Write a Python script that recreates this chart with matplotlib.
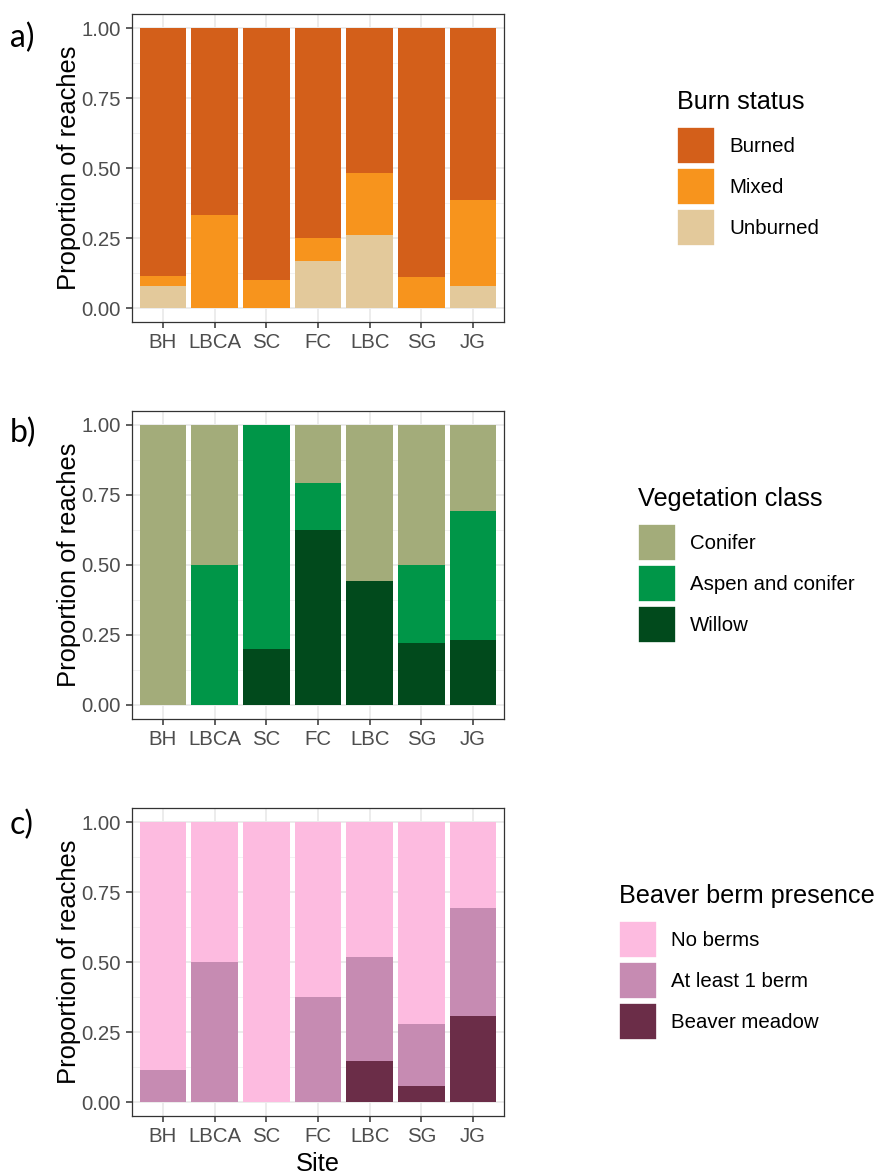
import matplotlib
matplotlib.use("Agg")
import matplotlib.pyplot as plt
from matplotlib.patches import Patch
from matplotlib.ticker import MultipleLocator

plt.rcParams['font.family'] = ['Liberation Sans', 'DejaVu Sans']

sites = ["BH", "LBCA", "SC", "FC", "LBC", "SG", "JG"]

# burn status, proportion of reaches per site
unburned = [0.077, 0.0, 0.0, 0.167, 0.259, 0.0, 0.077]
mixed = [0.038, 0.333, 0.100, 0.083, 0.222, 0.111, 0.308]
burned = [0.885, 0.667, 0.900, 0.750, 0.519, 0.889, 0.615]

# vegetation class
willow = [0.0, 0.0, 0.200, 0.625, 0.444, 0.222, 0.231]
aspen_conifer = [0.0, 0.500, 0.800, 0.167, 0.0, 0.278, 0.462]
conifer = [1.0, 0.500, 0.0, 0.208, 0.556, 0.500, 0.308]

# beaver berm presence
beaver_meadow = [0.0, 0.0, 0.0, 0.0, 0.148, 0.056, 0.308]
one_berm = [0.115, 0.500, 0.0, 0.375, 0.370, 0.222, 0.385]
no_berms = [0.885, 0.500, 1.0, 0.625, 0.481, 0.722, 0.308]

# each panel: (tag, legend title, [(label, values, colour)] from top of stack down)
panels = [
    ("a)", "Burn status", [
        ("Burned", burned, "#D35F1A"),
        ("Mixed", mixed, "#F7941D"),
        ("Unburned", unburned, "#E3C99B"),
    ]),
    ("b)", "Vegetation class", [
        ("Conifer", conifer, "#A3AC7A"),
        ("Aspen and conifer", aspen_conifer, "#009648"),
        ("Willow", willow, "#014A1C"),
    ]),
    ("c)", "Beaver berm presence", [
        ("No berms", no_berms, "#FDBBE0"),
        ("At least 1 berm", one_berm, "#C68BB2"),
        ("Beaver meadow", beaver_meadow, "#6B2D48"),
    ]),
]

W, H = 880, 1174
fig = plt.figure(figsize=(W / 100, H / 100), dpi=100)

ax_tops = [14, 411, 808]
legend_x = [677, 638, 619]
tag_y = [38, 433, 825]

for i, (tag, title, layers) in enumerate(panels):
    top = ax_tops[i]
    ax = fig.add_axes([132 / W, 1 - (top + 308) / H, 372 / W, 308 / H])

    x = range(len(sites))
    bottom = [0.0] * len(sites)
    for label, vals, col in reversed(layers):
        ax.bar(x, vals, width=0.9, bottom=bottom, color=col, zorder=3)
        bottom = [b + v for b, v in zip(bottom, vals)]

    ax.set_xlim(-0.6, len(sites) - 0.4)
    ax.set_ylim(-0.05, 1.05)
    ax.yaxis.set_major_locator(MultipleLocator(0.25))
    ax.yaxis.set_minor_locator(MultipleLocator(0.125))
    ax.set_yticks([0, 0.25, 0.5, 0.75, 1.0])
    ax.set_yticklabels(["0.00", "0.25", "0.50", "0.75", "1.00"])
    ax.set_xticks(list(x))
    ax.set_xticklabels(sites)

    ax.grid(which='major', color='#EBEBEB', linewidth=1.3, zorder=0)
    ax.grid(which='minor', axis='y', color='#F2F2F2', linewidth=0.7, zorder=0)
    ax.set_axisbelow(True)
    ax.tick_params(which='minor', length=0)
    ax.tick_params(which='major', direction='out', length=4.3, width=1.1,
                   color='#333333', labelcolor='#4D4D4D', labelsize=14.7, pad=3.6)
    for sp in ax.spines.values():
        sp.set_color('#333333')
        sp.set_linewidth(0.9)

    ax.set_ylabel("Proportion of reaches", fontsize=18.4, labelpad=0.5)
    if i == 2:
        ax.set_xlabel("Site", fontsize=18.4, labelpad=4)

    fig.text(10 / W, 1 - tag_y[i] / H, tag, fontsize=23, family='Lato',
             va='center', ha='left')

    # legend title sits above the keys, left aligned with them
    fig.text(legend_x[i] / W, 1 - (top + 95) / H, title, fontsize=18.2,
             va='baseline', ha='left')
    handles = [Patch(facecolor=col, edgecolor='white', linewidth=1.2, label=label)
               for label, vals, col in layers]
    ax.legend(handles=handles, loc='upper left',
              bbox_to_anchor=(legend_x[i] / W, 1 - (top + 113) / H),
              bbox_transform=fig.transFigure, frameon=False,
              fontsize=14.7, borderpad=0, borderaxespad=0,
              handlelength=1.86, handleheight=2.41, labelspacing=0.2,
              handletextpad=0.7)

fig.savefig("out.png", dpi=100)
